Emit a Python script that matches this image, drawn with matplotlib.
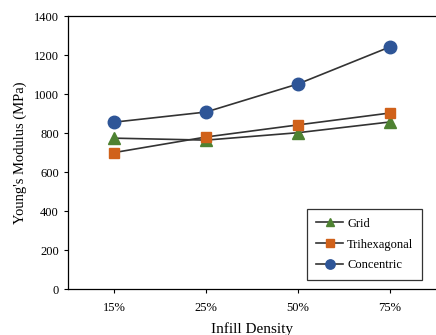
import matplotlib.pyplot as plt

densities = ["15%", "25%", "50%", "75%"]
grid = [774, 764, 802, 857]
trihexagonal = [700, 780, 842, 903]
concentric = [856, 908, 1052, 1242]

plt.rcParams["font.family"] = ["Liberation Serif", "DejaVu Serif"]

fig = plt.figure(figsize=(4.36, 3.35), dpi=100)
ax = fig.add_axes([0.156, 0.137, 0.844, 0.815])

x = range(len(densities))
ax.plot(x, grid, color="#333333", lw=1.2, marker="^", ms=8,
        mfc="#4E8232", mec="#4E8232", label="Grid")
ax.plot(x, trihexagonal, color="#333333", lw=1.2, marker="s", ms=7,
        mfc="#D0611A", mec="#D0611A", label="Trihexagonal")
ax.plot(x, concentric, color="#333333", lw=1.2, marker="o", ms=9,
        mfc="#2E5597", mec="#2E5597", label="Concentric")

ax.set_xlim(-0.5, 3.5)
ax.set_ylim(0, 1400)
ax.set_yticks(range(0, 1401, 200))
ax.set_xticks(list(x))
ax.set_xticklabels(densities)
ax.tick_params(labelsize=9, length=3, width=0.8)
ax.tick_params(axis="x", pad=6)
ax.spines["right"].set_visible(False)
for s in ("left", "bottom", "top"):
    ax.spines[s].set_linewidth(0.9)

ax.set_xlabel("Infill Density", fontsize=11, labelpad=6)
ax.set_ylabel("Young's Modulus (MPa)", fontsize=10.5, labelpad=5)

leg = ax.legend(loc="lower right", bbox_to_anchor=(0.962, 0.033), fontsize=9,
                fancybox=False, edgecolor="#333333", framealpha=1,
                markerscale=0.75, handlelength=2.2, handletextpad=0.3,
                borderpad=0.7, labelspacing=0.7, borderaxespad=0)
leg.get_frame().set_linewidth(0.9)

fig.savefig("out.png", dpi=100)
